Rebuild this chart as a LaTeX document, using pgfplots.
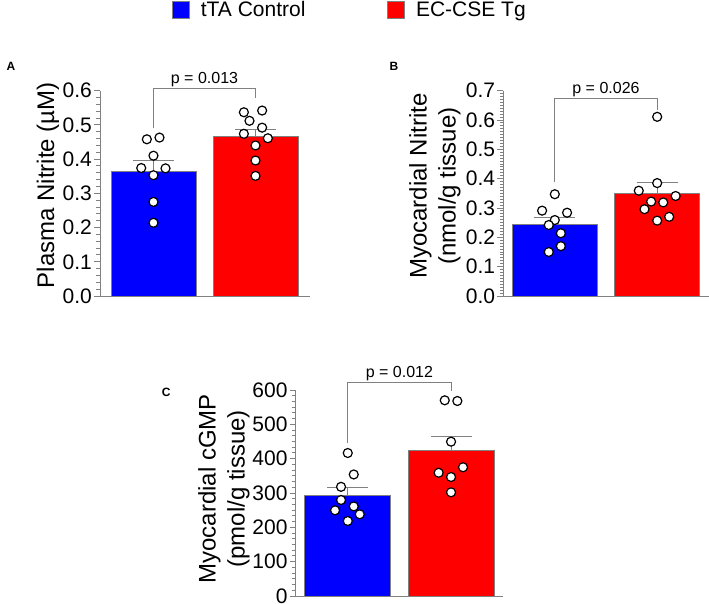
\documentclass[border=0pt]{standalone}
\usepackage{pgfplots}
\pgfplotsset{compat=1.18}
\usepackage{fontspec}
\setmainfont{Liberation Sans}
\definecolor{axgray}{RGB}{128,128,128}
\definecolor{barblue}{RGB}{0,0,255}
\definecolor{barred}{RGB}{255,0,0}
\pgfplotsset{
  panel/.style={
    scale only axis, clip=false, anchor=south west,
    axis x line=bottom, axis y line=left,
    axis line style={-, axgray, line width=1pt},
    xtick=\empty, ymin=0,
    tick align=outside, major tick length=6pt, minor tick length=3.5pt,
    every tick/.style={axgray, line width=1pt},
    /pgf/number format/assume math mode=true,
    yticklabel style={font=\fontsize{21}{25}\selectfont, inner xsep=2pt},
    ylabel style={font=\fontsize{24}{29}\selectfont, align=center, anchor=center},
  },
  barA/.style={ybar, bar shift=0pt, draw=axgray, line width=0.8pt, forget plot,
    error bars/y dir=plus, error bars/y explicit,
    error bars/error bar style={axgray, line width=1pt},
    error bars/error mark options={rotate=90, axgray, line width=1pt, mark size=20.5pt}},
  dots/.style={only marks, mark=*, mark size=4.5pt, forget plot,
    mark options={fill=white, draw=black, line width=1.2pt}},
}
\tikzset{
  brack/.style={axgray, line width=1pt},
  ptext/.style={font=\fontsize{16}{19}\selectfont, anchor=base, yshift=5pt},
  plab/.style={font=\bfseries\fontsize{12}{14}\selectfont, anchor=base west},
}
\begin{document}
\begin{tikzpicture}
\useasboundingbox (0,0) rectangle (709pt,-604pt);

% Panel A
\begin{axis}[panel, at={(100pt,-296pt)}, width=210pt, height=205.3pt,
  xmin=-0.524, xmax=1.534, ymax=0.6,
  ytick={0,0.1,0.2,0.3,0.4,0.5,0.6}, minor y tick num=4,
  yticklabel style={/pgf/number format/.cd, fixed, fixed zerofill, precision=1},
  ylabel={Plasma Nitrite (µM)},
  ylabel style={at={(axis description cs:-0.248,0.54)}},
  legend style={at={(axis description cs:0.343,1.393)}, anchor=west, draw=none, fill=none,
    inner sep=0pt, legend columns=2, font=\fontsize{21}{25}\selectfont,
    /tikz/every even column/.append style={column sep=80pt}},
]
\addlegendimage{legend image code/.code={\draw[fill=barblue, draw=axgray, line width=0.8pt] (0pt,-8.5pt) rectangle (17pt,8.5pt); \path (26pt,0pt);}}
\addlegendentry{tTA Control}
\addlegendimage{legend image code/.code={\draw[fill=barred, draw=axgray, line width=0.8pt] (0pt,-8.5pt) rectangle (17pt,8.5pt); \path (26pt,0pt);}}
\addlegendentry{EC-CSE Tg}
\addplot[barA, bar width=0.833, fill=barblue] coordinates {(0,0.365) +- (0,0.032)};
\addplot[barA, bar width=0.833, fill=barred] coordinates {(1,0.466) +- (0,0.022)};
\addplot[dots] coordinates {(-0.065,0.458) (0.059,0.463) (0,0.410) (-0.12,0.374) (0.118,0.373) (0,0.353) (0,0.275) (0,0.214)};
\addplot[dots] coordinates {(0.886,0.537) (1.065,0.542) (0.941,0.512) (1.065,0.492) (0.886,0.474) (1.121,0.461) (1,0.440) (1,0.396) (1,0.351)};
\draw[brack] (axis cs:0,0.49) -- (axis cs:0,0.607) -- (axis cs:1,0.607) -- (axis cs:1,0.578);
\node[ptext] at (axis cs:0.5,0.607) {p = 0.013};
\node[plab] at (axis description cs:-0.462,1.096) {A};
\end{axis}

% Panel B
\begin{axis}[panel, at={(503.3pt,-296pt)}, width=205.7pt, height=205.3pt,
  xmin=-0.503, xmax=1.506, ymax=0.7,
  ytick={0,0.1,0.2,0.3,0.4,0.5,0.6,0.7}, minor y tick num=9,
  yticklabel style={/pgf/number format/.cd, fixed, fixed zerofill, precision=1},
  ylabel={Myocardial Nitrite\\(nmol/g tissue)},
  ylabel style={at={(axis description cs:-0.332,0.535)}},
]
\addplot[barA, bar width=0.83, fill=barblue] coordinates {(0,0.245) +- (0,0.022)};
\addplot[barA, bar width=0.83, fill=barred] coordinates {(1,0.350) +- (0,0.036)};
\addplot[dots] coordinates {(0,0.347) (-0.124,0.291) (0.12,0.284) (0,0.259) (-0.059,0.242) (0.059,0.214) (0.059,0.170) (-0.059,0.150)};
\addplot[dots] coordinates {(1,0.611) (1,0.385) (0.82,0.359) (1.18,0.341) (0.941,0.322) (1.059,0.319) (0.876,0.296) (1.117,0.270) (1,0.257)};
\draw[brack] (axis cs:0,0.39) -- (axis cs:0,0.674) -- (axis cs:1,0.674) -- (axis cs:1,0.634);
\node[ptext] at (axis cs:0.5,0.674) {p = 0.026};
\node[plab] at (axis description cs:-0.570,1.097) {B};
\end{axis}

% Panel C
\begin{axis}[panel, at={(295.7pt,-596pt)}, width=207.2pt, height=206pt,
  xmin=-0.504, xmax=1.502, ymax=600,
  ytick={0,100,200,300,400,500,600}, minor y tick num=5,
  ylabel={Myocardial cGMP\\(pmol/g tissue)},
  ylabel style={at={(axis description cs:-0.346,0.52)}},
]
\addplot[barA, bar width=0.83, fill=barblue] coordinates {(0,292) +- (0,24.6)};
\addplot[barA, bar width=0.83, fill=barred] coordinates {(1,425) +- (0,39)};
\addplot[dots] coordinates {(0,416.5) (0.058,354) (-0.065,318) (-0.065,279.6) (0.058,261) (-0.123,249.6) (0.116,238) (0,218.5)};
\addplot[dots] coordinates {(0.939,570) (1.061,568) (1,449.5) (1.116,375) (0.88,359) (1,346.6) (1,302)};
\draw[brack] (axis cs:0,445) -- (axis cs:0,621) -- (axis cs:1,621) -- (axis cs:1,597);
\node[ptext] at (axis cs:0.5,621) {p = 0.012};
\node[plab] at (axis description cs:-0.663,0.967) {C};
\end{axis}
\end{tikzpicture}
\end{document}
